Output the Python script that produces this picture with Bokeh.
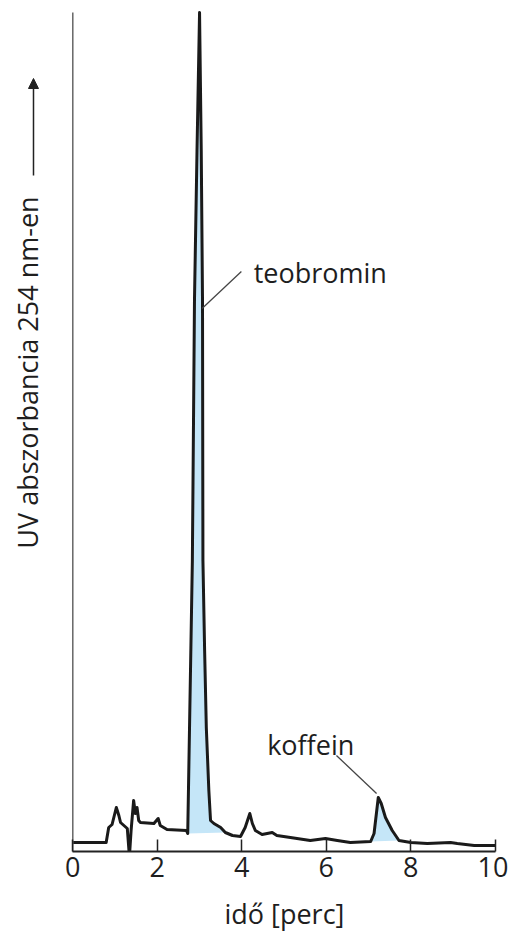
import numpy as np
from bokeh.plotting import figure
from bokeh.models import Label, Arrow, NormalHead, FixedTicker, Range1d, Title
from bokeh.embed import file_html
from bokeh.resources import INLINE

# ---- data ----
time_min = [0.00, 0.79, 0.85, 0.93, 1.03, 1.09, 1.13, 1.29, 1.34, 1.38, 1.44, 1.48, 1.52, 1.56,
            1.60, 1.92, 2.02, 2.07, 2.23, 2.69, 2.72, 2.83, 2.88, 2.94, 3.00, 3.04, 3.07, 3.08,
            3.12, 3.16, 3.22, 3.26, 3.34, 3.50, 3.61, 3.78, 3.97, 4.08, 4.19, 4.25, 4.32, 4.48,
            4.72, 4.83, 5.15, 5.62, 5.98, 6.26, 6.57, 7.05, 7.13, 7.23, 7.30, 7.40, 7.56, 7.72,
            8.00, 8.39, 8.94, 9.10, 9.50, 10.00]
absorbance = [9, 9, 24, 27, 44, 36, 29, 23, -5, 21, 51, 38, 44, 31,
              29, 28, 33, 26, 22, 21, 18, 291, 551, 701, 839, 701, 551, 291,
              201, 124, 61, 31, 28, 24, 19, 16, 15, 24, 38, 28, 21, 17,
              19, 16, 14, 11, 13, 11, 9, 10, 18, 54, 48, 34, 21, 11,
              9, 8, 9, 8, 6, 6]

peak_windows = [(2.72, 3.61), (7.05, 7.72)]
peak_names = ["teobromin", "koffein"]
label_pos = [(4.28, 579), (4.60, 107)]
leader_lines = [((3.06, 543), (3.99, 580)), ((6.24, 96), (7.19, 58))]

x_ticks = [0, 2, 4, 6, 8, 10]
x_label = "idő [perc]"
y_label = "UV abszorbancia 254 nm-en"
y_top = 839

FONT = "Open Sans"
TXT = "#1e1e1e"

p = figure(width=508, height=945, output_backend="svg", toolbar_location=None,
           x_range=Range1d(-1.711, 10.312), y_range=Range1d(0, 851),
           min_border_left=0, min_border_right=0, min_border_top=0, min_border_bottom=94)
p.outline_line_color = None
p.grid.visible = False
p.background_fill_color = "white"
p.yaxis.visible = False

t = np.array(time_min)
a = np.array(absorbance)

# filled peaks
for (t0, t1) in peak_windows:
    m = (t >= t0) & (t <= t1)
    p.patch(t[m], a[m], fill_color="#c5e6f8", line_color=None)

p.line(t, a, line_color="#1a1a1a", line_width=3, line_join="round")

# left axis line (y axis of the chromatogram)
p.line([0, 0], [0, y_top], line_color="#666666", line_width=1.5)

# leader lines & labels
for (pt0, pt1), name, (lx, ly) in zip(leader_lines, peak_names, label_pos):
    p.line([pt0[0], pt1[0]], [pt0[1], pt1[1]], line_color="#444444", line_width=1.3)
    p.add_layout(Label(x=lx, y=ly, text=name, text_font=FONT, text_font_size="27px",
                       text_color=TXT, text_baseline="alphabetic", text_align="left"))

# y axis title and arrow
p.add_layout(Label(x=-1.07, y=479, text=y_label, text_font=FONT, text_font_size="27px",
                   text_color=TXT, text_align="center", text_baseline="middle",
                   angle=np.pi / 2))
p.add_layout(Arrow(x_start=-0.93, y_start=676, x_end=-0.93, y_end=773,
                   line_color="#222222", line_width=1.5,
                   end=NormalHead(size=10, fill_color="#222222", line_color="#222222")))

# bottom axis
p.xaxis.bounds = (0, 10)
p.xaxis.ticker = FixedTicker(ticks=x_ticks)
p.xaxis.major_tick_in = 12
p.xaxis.major_tick_out = 0
p.xaxis.minor_tick_line_color = None
p.xaxis.axis_line_color = "#222222"
p.xaxis.axis_line_width = 2
p.xaxis.major_tick_line_color = "#222222"
p.xaxis.major_tick_line_width = 1.5
p.xaxis.major_label_text_font = FONT
p.xaxis.major_label_text_font_size = "27px"
p.xaxis.major_label_text_color = TXT
p.xaxis.major_label_standoff = 5

# x-axis title, left aligned with pixel offset so it centres under the 0-10 axis
p.add_layout(Title(text=x_label, align="left", offset=224, standoff=26,
                   text_font=FONT, text_font_size="27px", text_font_style="normal",
                   text_color=TXT), "below")

open("out.html", "w").write(file_html(p, INLINE))
